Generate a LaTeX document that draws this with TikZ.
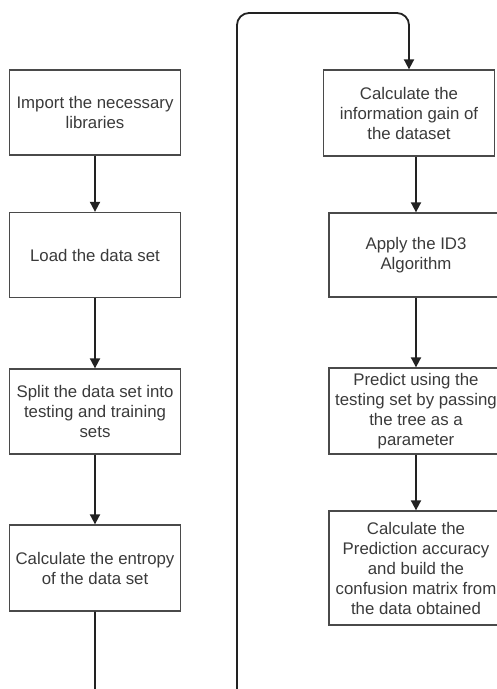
\documentclass[tikz,border=0pt]{standalone}
\usepackage{fontspec}
\setmainfont{Liberation Sans}
\usetikzlibrary{arrows.meta}
\definecolor{boxgray}{HTML}{4A4A4A}
\definecolor{textgray}{HTML}{3A3A3A}
\definecolor{linegray}{HTML}{222222}
\begin{document}
\begin{tikzpicture}[x=1pt,y=-1pt,
  stepbox/.style={draw=boxgray, line width=1.3pt, text=textgray, align=center,
    inner sep=0pt, font=\fontsize{16.8}{20}\selectfont,
    minimum width=171pt, minimum height=85pt},
  cutbox/.style={stepbox, minimum width=174pt},
  flow/.style={draw=linegray, line width=1.8pt, -{Triangle[width=10pt,length=10pt]}}]
\useasboundingbox (0,0) rectangle (497,689);
\clip (0,0) rectangle (497,689);
% left column
\node[stepbox] (b1) at (95,112.5) {Import the necessary\\libraries};
\node[stepbox] (b2) at (95,255) {Load the data set};
\node[stepbox] (b3) at (95,411.5) {Split the data set into\\testing and training\\sets};
\node[stepbox, minimum height=86pt] (b4) at (95,568) {Calculate the entropy\\of the data set};
% right column
\node[stepbox, minimum height=86pt] (b5) at (409,113) {Calculate the\\information gain of\\the dataset};
\node[cutbox, minimum height=84pt] (b6) at (416,255) {Apply the ID3\\Algorithm};
\node[cutbox, minimum height=86pt] (b7) at (416,411) {Predict using the\\testing set by passing\\the tree as a\\parameter};
\node[cutbox, minimum height=114pt] (b8) at (416,568) {Calculate the\\Prediction accuracy\\and build the\\confusion matrix from\\the data obtained};
% connectors
\draw[flow] (b1) -- (b2);
\draw[flow] (b2) -- (b3);
\draw[flow] (b3) -- (b4);
\draw[flow, rounded corners=12pt] (b4.south) -- (95,720) -- (237,720) -- (237,13) -- (409,13) -- (b5.north);
\draw[flow] (b5.south -| b6.north) -- (b6.north);
\draw[flow] (b6) -- (b7);
\draw[flow] (b7) -- (b8);
\end{tikzpicture}
\end{document}
